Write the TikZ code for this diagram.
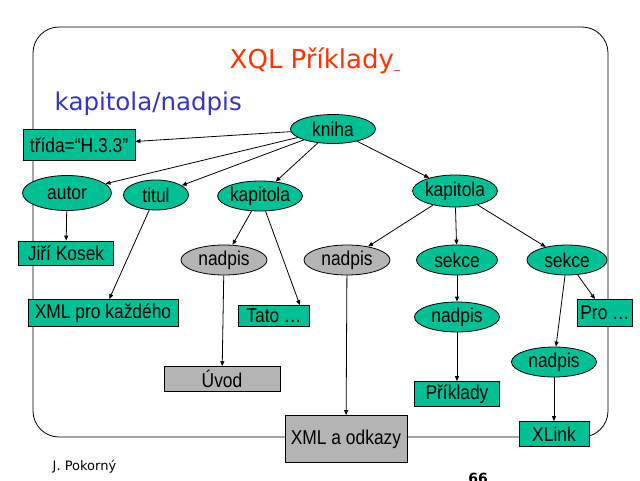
\documentclass[tikz,border=0pt]{standalone}
\usepackage{fontspec}
\setmainfont{Liberation Sans}[FakeStretch=0.87]
\newfontfamily\slidefont{DejaVu Sans}
\usetikzlibrary{shapes.geometric,arrows.meta}

\definecolor{zelena}{RGB}{0,192,150}
\definecolor{seda}{RGB}{180,180,180}
\definecolor{cervena}{RGB}{255,51,0}
\definecolor{modra}{RGB}{51,51,204}

\tikzset{
  uzel/.style={ellipse, draw, fill=zelena, inner sep=0pt, minimum width=84pt,
    minimum height=30pt, font=\fontsize{20}{22}\selectfont},
  sedy/.style={uzel, fill=seda},
  list/.style={rectangle, draw, fill=zelena, inner sep=0pt, minimum height=25pt,
    font=\fontsize{20}{22}\selectfont},
  sedylist/.style={list, fill=seda},
  sipka/.style={-{Triangle[length=5pt,width=4pt]}}
}

\begin{document}
\begin{tikzpicture}[x=1pt, y=-1pt, line width=0.8pt]
  \useasboundingbox (0,0) rectangle (640,480);

  % frame
  \draw[rounded corners=26pt] (33,27) rectangle (608,437);

  \node[anchor=base west, text=cervena, font=\slidefont\fontsize{26}{30}\selectfont]
    (nazev) at (226,68) {XQL Příklady{\fontsize{12}{12}\selectfont\_}};
  \node[anchor=base west, text=modra, font=\slidefont\fontsize{24.5}{28}\selectfont]
    (dotaz) at (51,110) {kapitola/nadpis};

  % tree
  \node[uzel, minimum width=85pt, minimum height=29pt] (kniha) at (333,129) {kniha};
  \node[list, minimum width=112pt, minimum height=31pt] (trida) at (79,145) {třída=“H.3.3”};
  \node[uzel, minimum width=89pt, minimum height=35pt] (autor) at (67,193) {autor};
  \node[uzel, minimum width=65pt] (titul) at (156,195) {titul};
  \node[uzel, minimum width=80pt] (k-1) at (260,196) {kapitola};
  \node[uzel, minimum width=82pt, minimum height=32pt] (k-2) at (455,191) {kapitola};

  \node[list, minimum width=95pt, minimum height=24pt] (kosek) at (66,253) {Jiří Kosek};
  \node[sedy, minimum width=86pt] (n-1) at (224,260) {nadpis};
  \node[sedy, minimum width=86pt] (n-2) at (347,260) {nadpis};
  \node[uzel, minimum width=81pt] (s-1) at (457,260) {sekce};
  \node[uzel, minimum width=80pt] (s-2) at (567,260) {sekce};

  \node[list, minimum width=150pt, minimum height=27pt] (kazdy) at (103,313) {XML pro každého};
  \node[list, minimum width=71pt, minimum height=21pt] (tato) at (274,316) {Tato …};
  \node[uzel, minimum width=85pt] (n-3) at (457,317) {nadpis};
  \node[list, minimum width=55pt, minimum height=27pt] (pro) at (605,313) {Pro …};
  \node[uzel, minimum width=85pt] (n-4) at (554,362) {nadpis};

  \node[sedylist, minimum width=116pt] (uvod) at (222,379) {Úvod};
  \node[list, minimum width=85pt] (priklady) at (457,394) {Příklady};
  \node[sedylist, minimum width=122pt, minimum height=47pt] (odkazy) at (346,439) {XML a odkazy};
  \node[list, minimum width=70pt] (xlink) at (554,434) {XLink};

  \foreach \from/\to in {kniha/trida, kniha/autor, kniha/titul, kniha/k-1, kniha/k-2,
      autor/kosek, titul/kazdy, k-1/n-1, n-1/uvod, k-2/n-2, k-2/s-1, k-2/s-2,
      n-2/odkazy, s-1/n-3, n-3/priklady, s-2/n-4, s-2/pro, n-4/xlink} {
    \draw[sipka] (\from) -- (\to);
  }
  \draw[sipka] (k-1) -- ([xshift=-10pt]tato.north east);

  % footer
  \node[anchor=base west, font=\slidefont\fontsize{13}{15}\selectfont] (autorka) at (49,470) {J. Pokorný};
  \node[anchor=north, inner sep=0pt, font=\slidefont\bfseries\fontsize{14}{16}\selectfont] (strana) at (478,473) {66};
\end{tikzpicture}
\end{document}
